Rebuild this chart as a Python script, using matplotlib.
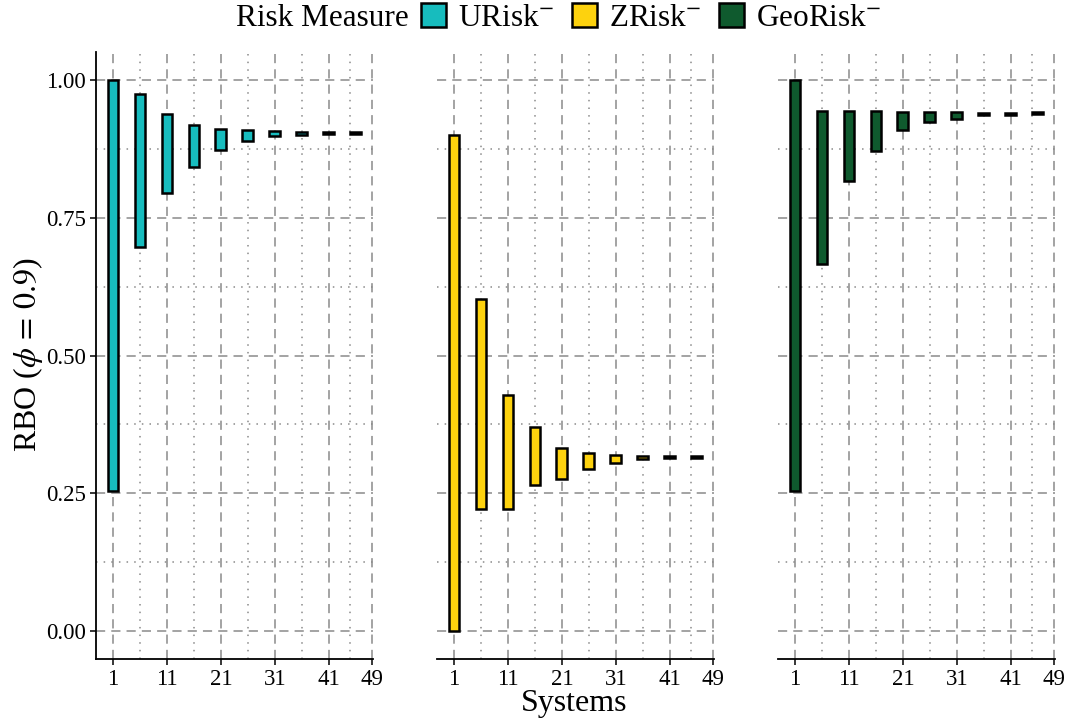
import matplotlib
matplotlib.use("Agg")
import matplotlib.pyplot as plt
import matplotlib.patches as patches

plt.rcParams["font.family"] = ["Liberation Serif", "DejaVu Serif"]
plt.rcParams["mathtext.fontset"] = "stix"

# systems sampled every 5 (1, 6, ..., 46)
systems = [1, 6, 11, 16, 21, 26, 31, 36, 41, 46]

# floating bars: [low, high] RBO range per measure
urisk_low = [0.255, 0.697, 0.795, 0.842, 0.873, 0.889, 0.897, 0.900, 0.901, 0.902]
urisk_high = [1.000, 0.973, 0.937, 0.918, 0.911, 0.909, 0.907, 0.905, 0.905, 0.905]

zrisk_low = [0.000, 0.221, 0.221, 0.266, 0.277, 0.294, 0.305, 0.312, 0.314, 0.315]
zrisk_high = [0.900, 0.603, 0.429, 0.370, 0.333, 0.323, 0.319, 0.318, 0.318, 0.318]

geo_low = [0.255, 0.665, 0.817, 0.871, 0.908, 0.923, 0.929, 0.935, 0.936, 0.937]
geo_high = [1.000, 0.943, 0.943, 0.943, 0.941, 0.941, 0.941, 0.940, 0.940, 0.941]

labels = [r"URisk$^{-}$", r"ZRisk$^{-}$", r"GeoRisk$^{-}$"]
colors = ["#17BCBE", "#FDD20E", "#0F5A2E"]
panels = [(urisk_low, urisk_high), (zrisk_low, zrisk_high), (geo_low, geo_high)]

x_ticks = [1, 11, 21, 31, 41, 49]
x_minor = [6, 16, 26, 36, 45]
y_ticks = [0.0, 0.25, 0.5, 0.75, 1.0]
y_minor = [0.125, 0.375, 0.625, 0.875]

W, H = 1068, 722
fig = plt.figure(figsize=(W / 100, H / 100), dpi=100)

lefts = [96, 437, 778]
pw = 277
bottom_px, top_px = 659, 52

grid_col = "#8a8a8a"
for k, (lo, hi) in enumerate(panels):
    ax = fig.add_axes([lefts[k] / W, 1 - bottom_px / H, pw / W, (bottom_px - top_px) / H])
    heights = [h - l for l, h in zip(lo, hi)]
    ax.bar(systems, heights, bottom=lo, width=2.0, color=colors[k],
           edgecolor="black", linewidth=1.8, zorder=3)

    ax.set_xlim(-2.15, 49.2)
    ax.set_ylim(-0.05, 1.05)
    ax.set_xticks(x_ticks)
    ax.set_xticks(x_minor, minor=True)
    ax.set_yticks(y_ticks)
    ax.set_yticks(y_minor, minor=True)

    ax.grid(which="major", color=grid_col, linestyle=(0, (6, 4)), linewidth=1.1, zorder=0)
    ax.grid(which="minor", color=grid_col, linestyle=(0, (1, 4)), linewidth=1.1, zorder=0)
    ax.set_axisbelow(True)

    for s in ["top", "right"]:
        ax.spines[s].set_visible(False)
    ax.spines["bottom"].set_linewidth(1.3)
    ax.spines["left"].set_linewidth(1.3)
    ax.tick_params(which="minor", length=0)
    ax.tick_params(which="major", length=4, width=1.1, labelsize=16.5, colors="black", pad=3)
    ax.set_xticklabels([str(t) for t in x_ticks])
    if k == 0:
        ax.set_yticklabels([f"{t:.2f}" for t in y_ticks])
    else:
        ax.spines["left"].set_visible(False)
        ax.tick_params(axis="y", left=False, labelleft=False)

fig.text(28 / W, 1 - 355 / H, r"RBO ($\phi\,=\,0.9$)", rotation=90,
         ha="center", va="center", fontsize=23)
fig.text(574 / W, 1 - 703 / H, "Systems", ha="center", va="center", fontsize=23)

# legend across the top
fig.text(236 / W, 1 - 18 / H, "Risk Measure", ha="left", va="center", fontsize=22.5)
handles = [patches.Patch(facecolor=c, edgecolor="black", linewidth=1.8) for c in colors]
fig.legend(handles, labels, loc="center left", bbox_to_anchor=(421 / W, 1 - 18 / H),
           ncol=3, frameon=False, fontsize=22.5, handlelength=0.8, handleheight=0.8,
           handletextpad=0.4, columnspacing=0.55, borderaxespad=0, borderpad=0)

plt.savefig("out.png", dpi=100)
